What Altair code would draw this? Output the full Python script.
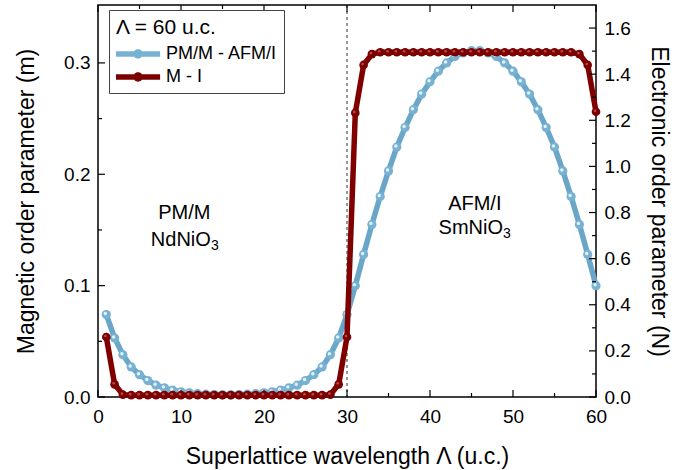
import altair as alt
import pandas as pd

# ---------------- data ----------------
x_vals = list(range(1, 61))
m_vals = [0.074, 0.053, 0.038, 0.027, 0.020, 0.0148, 0.0106, 0.0082, 0.0061, 0.0046,
          0.0037, 0.0030, 0.0025, 0.0022, 0.0020, 0.0020, 0.0022, 0.0025, 0.0030, 0.0037,
          0.0046, 0.0061, 0.0082, 0.0106, 0.0148, 0.020, 0.027, 0.038, 0.053, 0.074,
          0.100, 0.128, 0.155, 0.180, 0.203, 0.2245, 0.242, 0.258, 0.272, 0.283,
          0.2926, 0.300, 0.3057, 0.309, 0.311, 0.311, 0.309, 0.3057, 0.300, 0.2926,
          0.283, 0.272, 0.258, 0.242, 0.2245, 0.203, 0.180, 0.155, 0.128, 0.100]
n_vals = [0.26, 0.055, 0.010, 0.008, 0.008, 0.008, 0.008, 0.008, 0.008, 0.008,
          0.008, 0.008, 0.008, 0.008, 0.008, 0.008, 0.008, 0.008, 0.008, 0.008,
          0.008, 0.008, 0.008, 0.008, 0.008, 0.008, 0.008, 0.010, 0.055, 0.26,
          1.232, 1.44, 1.487, 1.495, 1.495, 1.495, 1.495, 1.495, 1.495, 1.495,
          1.495, 1.495, 1.495, 1.495, 1.495, 1.495, 1.495, 1.495, 1.495, 1.495,
          1.495, 1.495, 1.495, 1.495, 1.495, 1.495, 1.495, 1.487, 1.44, 1.237]
series_names = ["PM/M - AFM/I", "M - I"]
legend_title = "\u039b = 60 u.c."

x_major = [0, 10, 20, 30, 40, 50, 60]
x_minor = [5, 15, 25, 35, 45, 55]
m_major = [0.0, 0.1, 0.2, 0.3]
m_minor = [0.05, 0.15, 0.25]
n_major = [0.0, 0.2, 0.4, 0.6, 0.8, 1.0, 1.2, 1.4, 1.6]
n_minor = [0.1, 0.3, 0.5, 0.7, 0.9, 1.1, 1.3, 1.5]
transition_x = [30]

ann_main = ["PM/M", "AFM/I"]
ann_main_x = [10.4, 45.4]
ann_main_y = [0.165, 0.173]
ann_formula = ["NdNiO", "SmNiO"]
ann_formula_x = [13.6, 48.8]
ann_formula_y = [0.141, 0.152]
ann_sub = ["3", "3"]

# ---------------- style ----------------
W, H = 498, 392
FONT = "Liberation Sans"
BLUE_LINE = "#6aa6c8"
BLUE_PT = "#78b2d3"
BLUE_HI = "#e3f1f8"
RED_LINE = "#800000"
RED_PT = "#7c0000"
RED_HI = "#b94a4a"
M_DOMAIN = [0, 0.352]
N_DOMAIN = [0, 1.70]

df_m = pd.DataFrame({"x": x_vals, "m": m_vals, "series": series_names[0]})
df_n = pd.DataFrame({"x": x_vals, "N": n_vals, "series": series_names[1]})

xscale = alt.Scale(domain=[0, 60], nice=False)
mscale = alt.Scale(domain=M_DOMAIN, nice=False, zero=True)
nscale = alt.Scale(domain=N_DOMAIN, nice=False, zero=True)
cscale = alt.Scale(domain=series_names, range=[BLUE_PT, RED_PT])

common_axis = dict(tickSize=0, domain=False, grid=False, labelFontSize=19,
                   titleFontSize=23, titleFontWeight="normal", labelFlush=False,
                   labelColor="black", titleColor="black")
x_axis = alt.Axis(values=x_major, title="Superlattice wavelength \u039b (u.c.)",
                  orient="bottom", labelPadding=10, titlePadding=19, **common_axis)
m_axis = alt.Axis(values=m_major, format=".1f", title="Magnetic order parameter (m)",
                  orient="left", labelPadding=8, titlePadding=25, **common_axis)
n_axis = alt.Axis(values=n_major, format=".1f", orient="right",
                  title="Electronic order parameter (N)", labelPadding=8,
                  titlePadding=16, **common_axis)

# legend symbol: a thick line segment with a dot in its middle
sym_path = ("M-1,-0.3H3.9V0.3H-1Z "
            "M1.97,0A0.52,0.52 0 1,1 0.93,0A0.52,0.52 0 1,1 1.97,0Z")
legend = alt.Legend(title=legend_title, orient="none", legendX=11, legendY=5,
                    strokeColor="#444", fillColor="white", padding=7,
                    titleFontSize=21, titleFontWeight="normal", titleColor="black",
                    labelFontSize=18, labelColor="black", symbolType=sym_path,
                    symbolSize=324, symbolStrokeWidth=0, labelOffset=32,
                    titlePadding=7, rowPadding=5, cornerRadius=0)

X = lambda f: alt.X(f, scale=xscale, axis=x_axis)
YM = lambda f: alt.Y(f, scale=mscale, axis=m_axis)
YN = lambda f: alt.Y(f, scale=nscale, axis=n_axis)

# ---------------- left (magnetic) group ----------------
blue_line = alt.Chart(df_m).mark_line(color=BLUE_LINE, strokeWidth=5.5).encode(
    x=X("x:Q"), y=YM("m:Q"))
blue_pts = alt.Chart(df_m).mark_point(filled=True, shape="circle", size=85, opacity=1).encode(
    x=X("x:Q"), y=YM("m:Q"),
    color=alt.Color("series:N", scale=cscale, legend=legend))
blue_hi = alt.Chart(df_m).mark_circle(size=12, color=BLUE_HI, opacity=1,
                                      xOffset=-1, yOffset=-1).encode(
    x=X("x:Q"), y=YM("m:Q"))

dash = alt.Chart(pd.DataFrame({"xd": transition_x})).mark_rule(
    color="#333", strokeWidth=1, strokeDash=[3, 3]).encode(
    x=X("xd:Q"), y=alt.value(0), y2=alt.value(H))

ann1 = alt.Chart(pd.DataFrame({"x": ann_main_x, "y": ann_main_y, "t": ann_main})).mark_text(
    fontSize=20, align="center", baseline="middle", color="black").encode(
    x=X("x:Q"), y=YM("y:Q"), text="t:N")
ann2 = alt.Chart(pd.DataFrame({"x": ann_formula_x, "y": ann_formula_y, "t": ann_formula})).mark_text(
    fontSize=20, align="right", baseline="middle", color="black").encode(
    x=X("x:Q"), y=YM("y:Q"), text="t:N")
ann3 = alt.Chart(pd.DataFrame({"x": ann_formula_x, "y": ann_formula_y, "t": ann_sub})).mark_text(
    fontSize=14, align="left", baseline="middle", dy=6, color="black").encode(
    x=X("x:Q"), y=YM("y:Q"), text="t:N")

def xticks(vals, y0, y1):
    return alt.Chart(pd.DataFrame({"v": vals})).mark_rule(color="black", strokeWidth=1.2).encode(
        x=X("v:Q"), y=alt.value(y0), y2=alt.value(y1))

def yticks(vals, Yf, x0, x1):
    return alt.Chart(pd.DataFrame({"v": vals})).mark_rule(color="black", strokeWidth=1.2).encode(
        y=Yf("v:Q"), x=alt.value(x0), x2=alt.value(x1))

left_group = alt.layer(
    blue_line, blue_pts, blue_hi,
    dash,
    xticks(x_major, H, H - 7), xticks(x_minor, H, H - 4),
    xticks(x_major, 0, 7), xticks(x_minor, 0, 4),
    yticks(m_major, YM, 0, 7), yticks(m_minor, YM, 0, 4),
    ann1, ann2, ann3,
)

# ---------------- right (electronic) group ----------------
red_line = alt.Chart(df_n).mark_line(color=RED_LINE, strokeWidth=5.5).encode(
    x=X("x:Q"), y=YN("N:Q"))
red_pts = alt.Chart(df_n).mark_point(filled=True, shape="circle", size=75, opacity=1).encode(
    x=X("x:Q"), y=YN("N:Q"),
    color=alt.Color("series:N", scale=cscale, legend=legend))
red_hi = alt.Chart(df_n).mark_circle(size=7, color=RED_HI, opacity=1,
                                     xOffset=-1, yOffset=-1).encode(
    x=X("x:Q"), y=YN("N:Q"))
right_group = alt.layer(
    red_line, red_pts, red_hi,
    yticks(n_major, YN, W, W - 7), yticks(n_minor, YN, W, W - 4),
)

chart = alt.layer(left_group, right_group).resolve_scale(y="independent").properties(
    width=W, height=H,
    autosize=alt.AutoSizeParams(type="none"),
    padding={"left": 98, "top": 5, "right": 101, "bottom": 73},
).configure(font=FONT).configure_view(stroke="black", strokeWidth=1.5)

chart.save("out.html", embed_options={"renderer": "svg", "actions": False})
